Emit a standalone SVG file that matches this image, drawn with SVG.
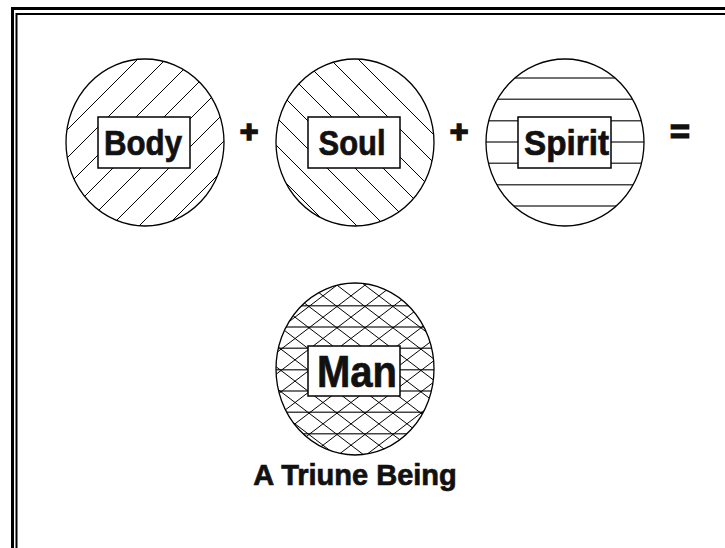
<svg xmlns="http://www.w3.org/2000/svg" width="725" height="548" viewBox="0 0 725 548">
<style>
.frame{fill:none;stroke:#000}
.hatch{fill:none;stroke:#000;stroke-width:1}
.hgrey{fill:none;stroke:#444;stroke-width:1.4}
.ring{fill:none;stroke:#000;stroke-width:1.3}
.box{fill:#fff;stroke:#000;stroke-width:1.5}
.lbl{font-family:"Liberation Sans",Arial,sans-serif;font-weight:bold;fill:#111;stroke:#111;stroke-width:0.7;text-anchor:middle}
.op{stroke-width:1.6}
</style>
<defs>
<clipPath id="cBody"><ellipse cx="145" cy="142.5" rx="79" ry="83.5"/></clipPath>
<clipPath id="cSoul"><ellipse cx="355" cy="142.5" rx="79" ry="83.5"/></clipPath>
<clipPath id="cSpirit"><ellipse cx="565" cy="142.5" rx="79" ry="83.5"/></clipPath>
<clipPath id="cMan"><ellipse cx="355" cy="369" rx="79" ry="86"/></clipPath>
</defs>
<rect width="725" height="548" fill="#fff"/>
<g id="frame">
<path class="frame" stroke-width="3" d="M12.5,548 V8.5 H725"/>
<path class="frame" stroke-width="2" d="M16.5,548 V14 H725"/>
</g>
<g id="body">
<path class="hatch" clip-path="url(#cBody)" d="M147,50 L-38,235 M175,50 L-10,235 M203,50 L18,235 M231,50 L46,235 M259,50 L74,235 M287,50 L102,235 M315,50 L130,235 M343,50 L158,235"/>
<ellipse class="ring" cx="145" cy="142.5" rx="79" ry="83.5"/>
<rect class="box" x="98" y="117" width="92" height="51"/>
<text class="lbl" x="143" y="155" font-size="35" textLength="78" lengthAdjust="spacingAndGlyphs">Body</text>
</g>
<g id="soul">
<path class="hatch" clip-path="url(#cSoul)" d="M153,50 L338,235 M181,50 L366,235 M209,50 L394,235 M237,50 L422,235 M265,50 L450,235 M293,50 L478,235 M321,50 L506,235 M349,50 L534,235 M377,50 L562,235"/>
<ellipse class="ring" cx="355" cy="142.5" rx="79" ry="83.5"/>
<rect class="box" x="308" y="117" width="92" height="51"/>
<text class="lbl" x="352" y="155" font-size="35" textLength="67" lengthAdjust="spacingAndGlyphs">Soul</text>
</g>
<g id="spirit">
<path class="hgrey" clip-path="url(#cSpirit)" d="M480,78 H650 M480,99.3 H650 M480,120.7 H650 M480,142 H650 M480,163.3 H650 M480,184.7 H650 M480,206 H650"/>
<ellipse class="ring" cx="565" cy="142.5" rx="79" ry="83.5"/>
<rect class="box" x="518" y="117" width="93" height="51"/>
<text class="lbl" x="566.5" y="155" font-size="35" textLength="85" lengthAdjust="spacingAndGlyphs">Spirit</text>
</g>
<g id="operators">
<text class="lbl op" x="249" y="142" font-size="32">+</text>
<text class="lbl op" x="459" y="142" font-size="32">+</text>
<text class="lbl op" x="680" y="142.5" font-size="34">=</text>
</g>
<g id="man">
<g clip-path="url(#cMan)">
<path class="hgrey" d="M270,305.7 H440 M270,327 H440 M270,348.3 H440 M270,369.7 H440 M270,391 H440 M270,412.3 H440 M270,433.7 H440"/>
<path class="hatch" d="M270,336.2 L440,206.6 M270,357.6 L440,228 M270,378.9 L440,249.3 M270,400.2 L440,270.6 M270,421.6 L440,292 M270,442.9 L440,313.3 M270,464.2 L440,334.6 M270,485.6 L440,356 M270,506.9 L440,377.3 M270,528.2 L440,398.6 M270,212.8 L440,342.4 M270,234.1 L440,363.7 M270,255.4 L440,385 M270,276.8 L440,406.4 M270,298.1 L440,427.7 M270,319.4 L440,449 M270,340.8 L440,470.4 M270,362.1 L440,491.7 M270,383.4 L440,513 M270,404.8 L440,534.4"/>
</g>
<ellipse class="ring" cx="355" cy="369" rx="79" ry="86" stroke-width="1.6"/>
<rect class="box" x="308" y="346" width="92" height="50"/>
<text class="lbl" x="357" y="387" font-size="44" textLength="80" lengthAdjust="spacingAndGlyphs">Man</text>
</g>
<g id="caption">
<text class="lbl" x="355" y="485" font-size="29">A Triune Being</text>
</g>
</svg>
